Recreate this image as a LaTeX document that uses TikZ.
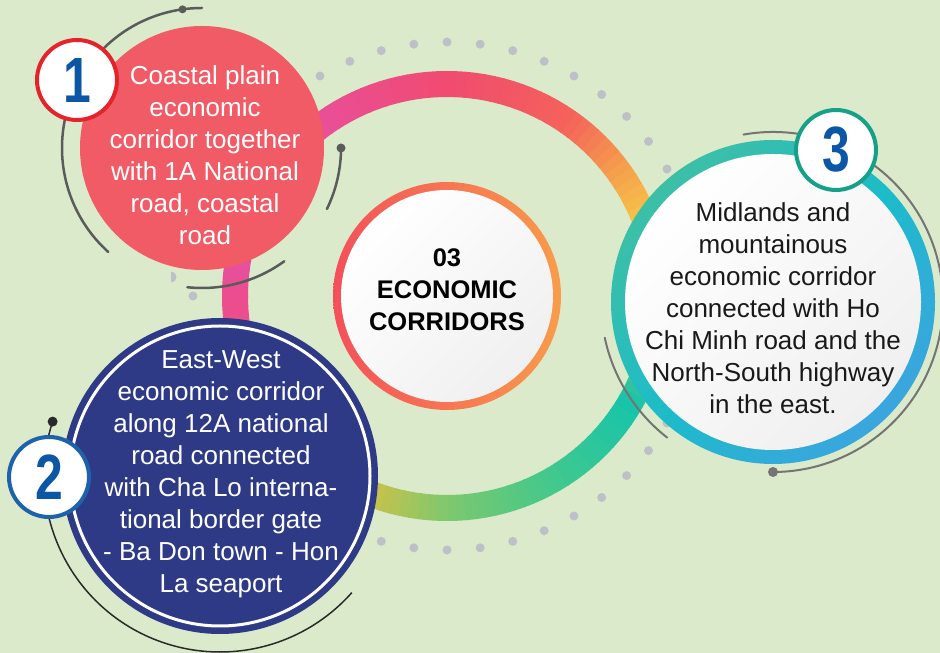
\documentclass[tikz,border=0pt]{standalone}
\usepackage{fontspec}
\setmainfont{Liberation Sans}
\newfontfamily\numfont[FakeStretch=0.78]{Liberation Sans}
\usepackage{xcolor}
\usepackage{tikz}
\definecolor{bg}{HTML}{DAEACB}
\definecolor{dotgray}{HTML}{BEC0C8}
\definecolor{decogray}{HTML}{5B5B5B}
\definecolor{arcdark}{HTML}{2A2A2A}
\definecolor{coral}{HTML}{F05B66}
\definecolor{navy}{HTML}{2E3A86}
\definecolor{numblue}{HTML}{0B57A6}
\definecolor{badgered}{HTML}{E4232B}
\definecolor{badgeblue}{HTML}{1D63AC}
\definecolor{badgeteal}{HTML}{14A089}
\definecolor{ringteal}{HTML}{3DBFA6}
\definecolor{ringcyan}{HTML}{1CBCC9}
\definecolor{ringblue}{HTML}{3BA5DF}
\definecolor{midred}{HTML}{F4505A}
\definecolor{midorange}{HTML}{F89C4B}
% stops of the big ring
\definecolor{rA}{HTML}{7DC86E}
\definecolor{rB}{HTML}{42C88D}
\definecolor{rC}{HTML}{16C4AA}
\definecolor{rD}{HTML}{E8C44A}
\definecolor{rE}{HTML}{F6C946}
\definecolor{rF}{HTML}{F5A34C}
\definecolor{rG}{HTML}{F4635A}
\definecolor{rH}{HTML}{F04B70}
\definecolor{rI}{HTML}{E94F9C}
\definecolor{rJ}{HTML}{DE56BE}
\definecolor{rK}{HTML}{EC4D8E}
\definecolor{rL}{HTML}{EE5C80}
\definecolor{rM}{HTML}{C8C24A}

\begin{document}
\begin{tikzpicture}
    [
    x=1pt, y=1pt,
    dot/.style = {circle, fill=dotgray, minimum size=9pt, inner sep=0pt},
    deco/.style = {line width=2.5pt, draw=decogray, line cap=round},
    disc/.style = {circle, inner sep=0pt, minimum size=#1},
    badge/.style = {circle, fill=white, draw=#1, line width=4pt, minimum size=80pt, inner sep=0pt,
                    text=numblue, font=\numfont\bfseries\fontsize{64}{64}\selectfont},
    body/.style = {align=center, font=\fontsize{26}{32}\selectfont}
    ]
\fill[bg] (0,0) rectangle (940,653);
\useasboundingbox (0,0) rectangle (940,653);

\coordinate (hub) at (447,357);

% dotted circle
\foreach \a [count=\i] in {0,7.5,...,352.5}
    \node[dot] (dot\i) at ([shift={(\a:254)}]hub) {};
\fill[dotgray] (171,381.5) arc[start angle=90, end angle=-90, radius=5.5] -- cycle;

% big ring, coloured piece by piece
\foreach \sa/\ea/\ca/\cb in {-90/-60/rA/rB, -60/-30/rB/rC, -30/0/rC/rD, 0/20/rD/rE,
        20/35/rE/rF, 35/55/rF/rG, 55/90/rG/rH, 90/130/rH/rI, 130/155/rI/rJ,
        155/180/rJ/rK, 180/220/rK/rL, 220/250/rL/rM, 250/270/rM/rA}{
    \pgfmathtruncatemacro\n{((\ea)-(\sa))/2.5}
    \foreach \k in {1,...,\n}{
        \pgfmathsetmacro\p{100-100*(\k-0.5)/\n}
        \pgfmathsetmacro\b{\sa+2.5*(\k-1)}
        \draw[line width=26pt, draw=\ca!\p!\cb] ([shift={(\b:212)}]hub) arc[start angle=\b, end angle=\b+2.8, radius=212];
    }
}

% centre
\node[disc=228pt, left color=midred, right color=midorange] (mid) at (hub) {};
\node[disc=212pt, top color=white, bottom color=black!6, shading angle=45] (midin) at (hub) {};

\node[disc=244pt, fill=coral] (c1) at (202,505) {};
\node[disc=316pt, fill=navy] (c2) at (220,177) {};
\draw[white, line width=3pt] (c2.center) circle[radius=150];
\node[disc=324pt, top color=ringteal, bottom color=ringblue, middle color=ringcyan, shading angle=45] (c3) at (773,351) {};
\node[disc=296pt, top color=white, bottom color=black!6, shading angle=45] (c3in) at (c3) {};

% thin arcs
\draw[deco] ([shift={(90:140)}]c1.center) arc[start angle=90, end angle=228, radius=140];
\fill[decogray] ([shift={(98:140)}]c1.center) circle[radius=4];
\draw[deco] ([shift={(-96:140)}]c1.center) arc[start angle=-96, end angle=-54, radius=140];
\draw[deco] ([shift={(0:139)}]c1.center) arc[start angle=0, end angle=-26, radius=139];
\fill[decogray] ([shift={(0:139)}]c1.center) circle[radius=4.5];

\draw[line width=1.5pt, draw=arcdark] ([shift={(162:176)}]c2.center) arc[start angle=162, end angle=318.5, radius=176];
\fill[arcdark] ([shift={(162:176)}]c2.center) circle[radius=5];

\draw[deco, line width=2pt, draw=decogray!85] ([shift={(100:170)}]c3.center) arc[start angle=100, end angle=-90, radius=170];
\fill[decogray!85] ([shift={(-90:170)}]c3.center) circle[radius=5];
\draw[deco, line width=2pt, draw=decogray!85] ([shift={(192:172)}]c3.center) arc[start angle=192, end angle=232, radius=172];

% badges
\node[badge=badgered] (b1) at (77,573) {1};
\node[badge=badgeblue] (b2) at (49,176) {2};
\node[badge=badgeteal] (b3) at (836,503) {3};

% texts
\node[body, text=white] (t1) at (205,498) {Coastal plain\\economic\\corridor together\\with 1A National\\road, coastal\\road};
\node[body, text=white] (t2) at (221,179) {East-West\\economic corridor\\along 12A national\\road connected\\with Cha Lo interna-\\tional border gate\\- Ba Don town - Hon\\La seaport};
\node[body, text=black!90] (t3) at (773,345) {Midlands and\\mountainous\\economic corridor\\connected with Ho\\Chi Minh road and the\\North-South highway\\in the east.};
\node[align=center, font=\bfseries\fontsize{25.5}{32}\selectfont] (title) at (447,363) {03\\ECONOMIC\\CORRIDORS};

\end{tikzpicture}
\end{document}
